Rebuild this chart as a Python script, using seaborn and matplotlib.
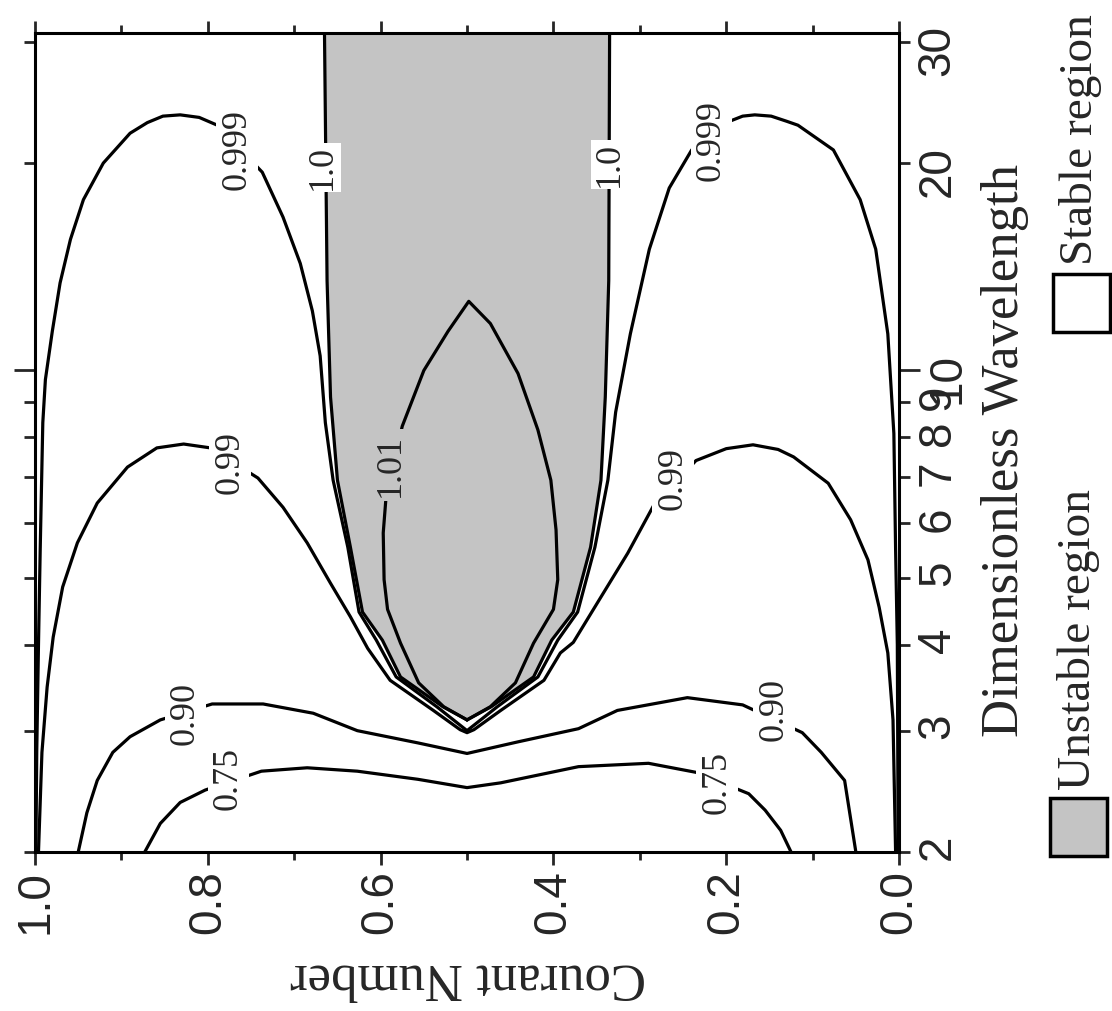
import matplotlib
matplotlib.use('Agg')
import matplotlib.pyplot as plt
import seaborn as sns
from matplotlib.ticker import FixedLocator, FixedFormatter
from matplotlib.patches import Rectangle

# values: Courant number c, dimensionless wavelength lam
c_075 = [0.873, 0.855, 0.832, 0.803, 0.738, 0.685, 0.627, 0.557, 0.5,
         0.461, 0.371, 0.290, 0.235, 0.174, 0.155, 0.137, 0.125]
lam_075 = [2.0, 2.20, 2.36, 2.46, 2.62, 2.65, 2.62, 2.55, 2.48,
           2.52, 2.66, 2.69, 2.61, 2.43, 2.30, 2.15, 2.0]

c_090 = [0.950, 0.940, 0.928, 0.910, 0.890, 0.855, 0.795, 0.736, 0.678, 0.627,
         0.557, 0.5, 0.441, 0.371, 0.326, 0.245, 0.181, 0.112, 0.090, 0.063, 0.050]
lam_090 = [2.0, 2.28, 2.54, 2.79, 2.94, 3.11, 3.28, 3.28, 3.18, 3.0,
           2.88, 2.78, 2.89, 3.02, 3.21, 3.35, 3.27, 2.98, 2.79, 2.54, 2.0]

c_099 = [0.996, 0.992, 0.986, 0.979, 0.968, 0.951, 0.928, 0.893, 0.859, 0.828,
         0.797, 0.742, 0.713, 0.685, 0.658, 0.635, 0.615, 0.589, 0.539, 0.508,
         0.5, 0.492, 0.461, 0.411, 0.392, 0.377, 0.345, 0.314, 0.284, 0.235,
         0.200, 0.169, 0.140, 0.122, 0.082, 0.056, 0.036, 0.023, 0.013, 0.007, 0.004]
lam_099 = [2.0, 2.79, 3.47, 4.10, 4.85, 5.62, 6.42, 7.24, 7.72, 7.82,
           7.72, 6.98, 6.33, 5.62, 4.91, 4.39, 3.95, 3.55, 3.21, 3.01,
           2.98, 3.01, 3.21, 3.55, 3.89, 4.03, 4.69, 5.43, 6.37, 7.40,
           7.70, 7.80, 7.68, 7.49, 6.86, 6.07, 5.31, 4.53, 3.89, 3.11, 2.0]

c_0999 = [0.999, 0.998, 0.996, 0.994, 0.991, 0.988, 0.980, 0.971, 0.959, 0.944,
          0.921, 0.890, 0.870, 0.852, 0.832, 0.810, 0.789, 0.737, 0.713, 0.693,
          0.679, 0.670, 0.664, 0.655, 0.638, 0.625, 0.605, 0.582, 0.535, 0.5,
          0.465, 0.418, 0.395, 0.372, 0.352, 0.337, 0.328, 0.311, 0.289, 0.266,
          0.240, 0.200, 0.181, 0.167, 0.148, 0.130, 0.117, 0.076, 0.045, 0.027,
          0.013, 0.006, 0.004, 0.002, 0.001]
lam_0999 = [2.0, 2.8, 4.0, 5.5, 8.4, 9.7, 11.4, 13.4, 15.5, 17.7,
            20.0, 22.1, 22.9, 23.4, 23.5, 23.3, 22.7, 19.4, 16.7, 14.3,
            12.2, 10.5, 8.4, 6.93, 5.54, 4.46, 4.06, 3.59, 3.25, 3.0,
            3.25, 3.59, 4.06, 4.46, 5.54, 6.93, 8.7, 11.3, 15.0, 18.4,
            20.9, 22.9, 23.4, 23.5, 23.4, 23.0, 22.7, 20.9, 17.7, 15.0,
            11.3, 8.1, 5.5, 4.0, 2.0]

# boundary of the unstable region (amplification factor 1.0)
lam_edge = [3.11, 3.25, 3.59, 4.06, 4.46, 5.54, 6.93, 9.15, 13.5, 31.0]
c_edge_left = [0.5, 0.528, 0.577, 0.598, 0.621, 0.635, 0.650, 0.658, 0.662, 0.665]
c_edge_right = [0.5, 0.472, 0.423, 0.402, 0.377, 0.357, 0.345, 0.340, 0.336, 0.335]

c_101 = [0.5, 0.527, 0.556, 0.577, 0.592, 0.596, 0.597, 0.594, 0.575, 0.550,
         0.522, 0.498, 0.473, 0.441, 0.418, 0.403, 0.397, 0.395, 0.400, 0.423,
         0.444, 0.473, 0.5]
lam_101 = [3.11, 3.25, 3.52, 4.02, 4.5, 4.97, 5.81, 6.49, 8.3, 10.0,
           11.4, 12.6, 11.7, 9.9, 8.2, 6.93, 5.87, 4.97, 4.5, 4.02,
           3.52, 3.25, 3.11]

label_text = ['0.75', '0.75', '0.90', '0.90', '0.99', '0.99',
              '0.999', '0.999', '1.0', '1.0', '1.01']
label_c = [0.776, 0.211, 0.826, 0.145, 0.774, 0.262,
           0.766, 0.217, 0.667, 0.335, 0.589]
label_lam = [2.56, 2.52, 3.18, 3.22, 7.36, 6.98,
             20.9, 21.6, 19.7, 19.9, 7.29]

courant_ticks = [1.0, 0.8, 0.6, 0.4, 0.2, 0.0]
courant_minor = [0.9, 0.7, 0.5, 0.3, 0.1]
wave_major = [10]
wave_minor = [2, 3, 4, 5, 6, 7, 8, 9, 20, 30]

shade = '#c4c4c4'

sns.set_style('ticks')
plt.rcParams['font.family'] = ['Liberation Serif', 'DejaVu Serif']

fig = plt.figure(figsize=(11.12, 10.11), dpi=100)
ax = fig.add_axes([0.0315, 0.1573, 0.777, 0.8101])
ax.set_yscale('log')

ax.fill_betweenx(lam_edge, c_edge_left, c_edge_right, color=shade, lw=0, zorder=1)

line_kw = dict(sort=False, estimator=None, color='black', linewidth=2.3, ax=ax)
for cs, lams in [(c_075, lam_075), (c_090, lam_090), (c_099, lam_099),
                 (c_0999, lam_0999), (c_edge_left, lam_edge),
                 (c_edge_right, lam_edge), (c_101, lam_101)]:
    sns.lineplot(x=cs, y=lams, **line_kw)
for ln in ax.lines:
    ln.set_solid_joinstyle('round')

for t, c, lam in zip(label_text, label_c, label_lam):
    bg = shade if t == '1.01' else 'white'
    pad = 0.05 if t == '1.0' else 0.12
    ax.text(c, lam, t, rotation=90, ha='center', va='center', fontsize=26,
            zorder=5, bbox=dict(boxstyle=f'square,pad={pad}', fc=bg, ec='none'))

ax.set_xlim(1.0, 0.0)
ax.set_ylim(2, 30.9)

ax.xaxis.set_major_locator(FixedLocator(courant_ticks))
ax.xaxis.set_major_formatter(FixedFormatter([f'{v:.1f}' for v in courant_ticks]))
ax.xaxis.set_minor_locator(FixedLocator(courant_minor))
ax.yaxis.set_major_locator(FixedLocator(wave_major))
ax.yaxis.set_major_formatter(FixedFormatter([str(v) for v in wave_major]))
ax.yaxis.set_minor_locator(FixedLocator(wave_minor))
ax.yaxis.set_minor_formatter(FixedFormatter([str(v) for v in wave_minor]))

ax.tick_params(axis='x', which='both', top=True, bottom=True, direction='out',
               width=2, labelrotation=90, pad=4)
ax.tick_params(axis='y', which='both', left=True, right=True, labelleft=False,
               labelright=True, direction='out', width=2, labelrotation=90, pad=4)
ax.tick_params(axis='x', which='major', length=9)
ax.tick_params(axis='x', which='minor', length=6)
ax.tick_params(axis='y', which='major', length=15)
ax.tick_params(axis='y', which='minor', length=8)
for lab in ax.get_xticklabels() + ax.get_yticklabels(which='both'):
    lab.set_fontfamily(['Liberation Sans', 'DejaVu Sans'])
    lab.set_fontsize(33)
for s in ax.spines.values():
    s.set_linewidth(2.2)
    s.set_color('black')
ax.set_xlabel('')
ax.set_ylabel('')

fig.text(0.421, 1 - 978 / 1011, 'Courant Number', rotation=180,
         ha='center', va='center', fontsize=38)
fig.text(0.904, 0.554, 'Dimensionless Wavelength', rotation=90,
         ha='center', va='center', fontsize=38)

# legend drawn by hand, turned like the rest of the chart
fig.add_artist(Rectangle((0.9442, 0.1533), 0.0513, 0.0574, transform=fig.transFigure,
                         fc=shade, ec='black', lw=2.5))
fig.add_artist(Rectangle((0.9470, 0.6716), 0.0513, 0.0574, transform=fig.transFigure,
                         fc='white', ec='black', lw=2.5))
fig.text(0.970, 1 - 790 / 1011, 'Unstable region', rotation=90,
         ha='center', va='bottom', fontsize=34)
fig.text(0.972, 1 - 265 / 1011, 'Stable region', rotation=90,
         ha='center', va='bottom', fontsize=34)

fig.savefig('out.png', dpi=100)
